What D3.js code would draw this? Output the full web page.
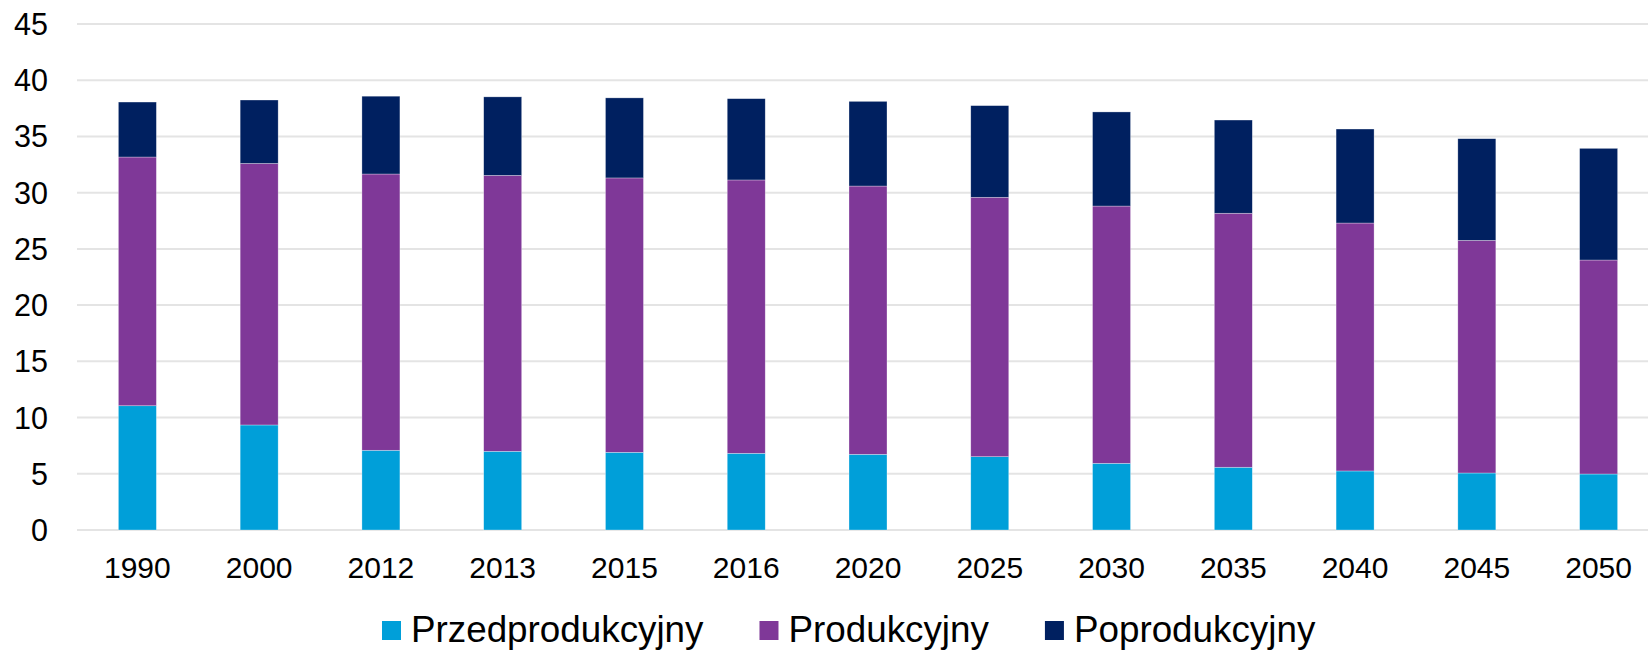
<!DOCTYPE html>
<html>
<head>
<meta charset="utf-8">
<script src="https://cdn.jsdelivr.net/npm/d3@7"></script>
<style>
  body { margin: 0; background: #fff; }
  text { font-family: "Liberation Sans", Arial, sans-serif; fill: #000; }
</style>
</head>
<body>
<div id="chart"></div>
<script>
// data (millions of people)
var years = ["1990", "2000", "2012", "2013", "2015", "2016", "2020", "2025", "2030", "2035", "2040", "2045", "2050"];
var przed = [11.05, 9.34, 7.09, 7.00, 6.91, 6.82, 6.73, 6.52, 5.93, 5.58, 5.25, 5.07, 4.98];
var prod  = [22.12, 23.26, 24.57, 24.54, 24.40, 24.31, 23.86, 23.07, 22.88, 22.59, 22.05, 20.69, 19.03];
var popr  = [4.89, 5.64, 6.92, 6.98, 7.12, 7.23, 7.53, 8.15, 8.37, 8.29, 8.36, 9.04, 9.93];
var seriesNames = ["Przedprodukcyjny", "Produkcyjny", "Poprodukcyjny"];
var yTicks = [0, 5, 10, 15, 20, 25, 30, 35, 40, 45];

var colors = ["#009fd9", "#7f3898", "#002060"];

var width = 1648, height = 651;

var rows = years.map(function(y, i){
    return { year: y, Przedprodukcyjny: przed[i], Produkcyjny: prod[i], Poprodukcyjny: popr[i] };
});

var svg = d3.select("#chart")
  .append("svg")
    .attr("width", width)
    .attr("height", height);

var x = d3.scaleBand()
    .domain(years)
    .range([76.5, 1659.5])
    .paddingInner(0.688)
    .paddingOuter(0.344);

var y = d3.scaleLinear()
    .domain([0, 45])
    .range([530, 24]);

// gridlines
svg.append("g")
  .selectAll("line")
  .data(yTicks)
  .enter()
  .append("line")
    .attr("x1", 77)
    .attr("x2", width)
    .attr("y1", function(d){ return y(d); })
    .attr("y2", function(d){ return y(d); })
    .style("stroke", "#e4e4e4")
    .style("stroke-width", 2);

// y labels
svg.append("g")
  .selectAll("text")
  .data(yTicks)
  .enter()
  .append("text")
    .attr("x", 48)
    .attr("y", function(d){ return y(d); })
    .attr("dy", "0.36em")
    .attr("text-anchor", "end")
    .style("font-size", "30.5px")
    .text(function(d){ return d; });

// stacked bars
var stacked = d3.stack().keys(seriesNames)(rows);

svg.append("g")
  .selectAll("g")
  .data(stacked)
  .enter()
  .append("g")
    .style("fill", function(d, i){ return colors[i]; })
  .selectAll("rect")
  .data(function(d){ return d; })
  .enter()
  .append("rect")
    .attr("x", function(d){ return x(d.data.year); })
    .attr("width", x.bandwidth())
    .attr("y", function(d){ return y(d[1]); })
    .attr("height", function(d){ return y(d[0]) - y(d[1]); })
    .style("stroke", "#ffffff")
    .style("stroke-width", 0.6)
    .style("stroke-opacity", 0.5);

// x labels
svg.append("g")
  .selectAll("text")
  .data(years)
  .enter()
  .append("text")
    .attr("x", function(d){ return x(d) + x.bandwidth() / 2; })
    .attr("y", 578)
    .attr("text-anchor", "middle")
    .style("font-size", "30px")
    .text(function(d){ return d; });

// legend
var legend = svg.append("g");
var lx = 382;
seriesNames.forEach(function(name, i){
    legend.append("rect")
        .attr("x", lx)
        .attr("y", 621)
        .attr("width", 19)
        .attr("height", 19)
        .style("fill", colors[i]);
    var t = legend.append("text")
        .attr("x", lx + 29)
        .attr("y", 641.5)
        .style("font-size", "36.8px")
        .text(name);
    lx = lx + 29 + t.node().getComputedTextLength() + 56;
});
</script>
</body>
</html>
